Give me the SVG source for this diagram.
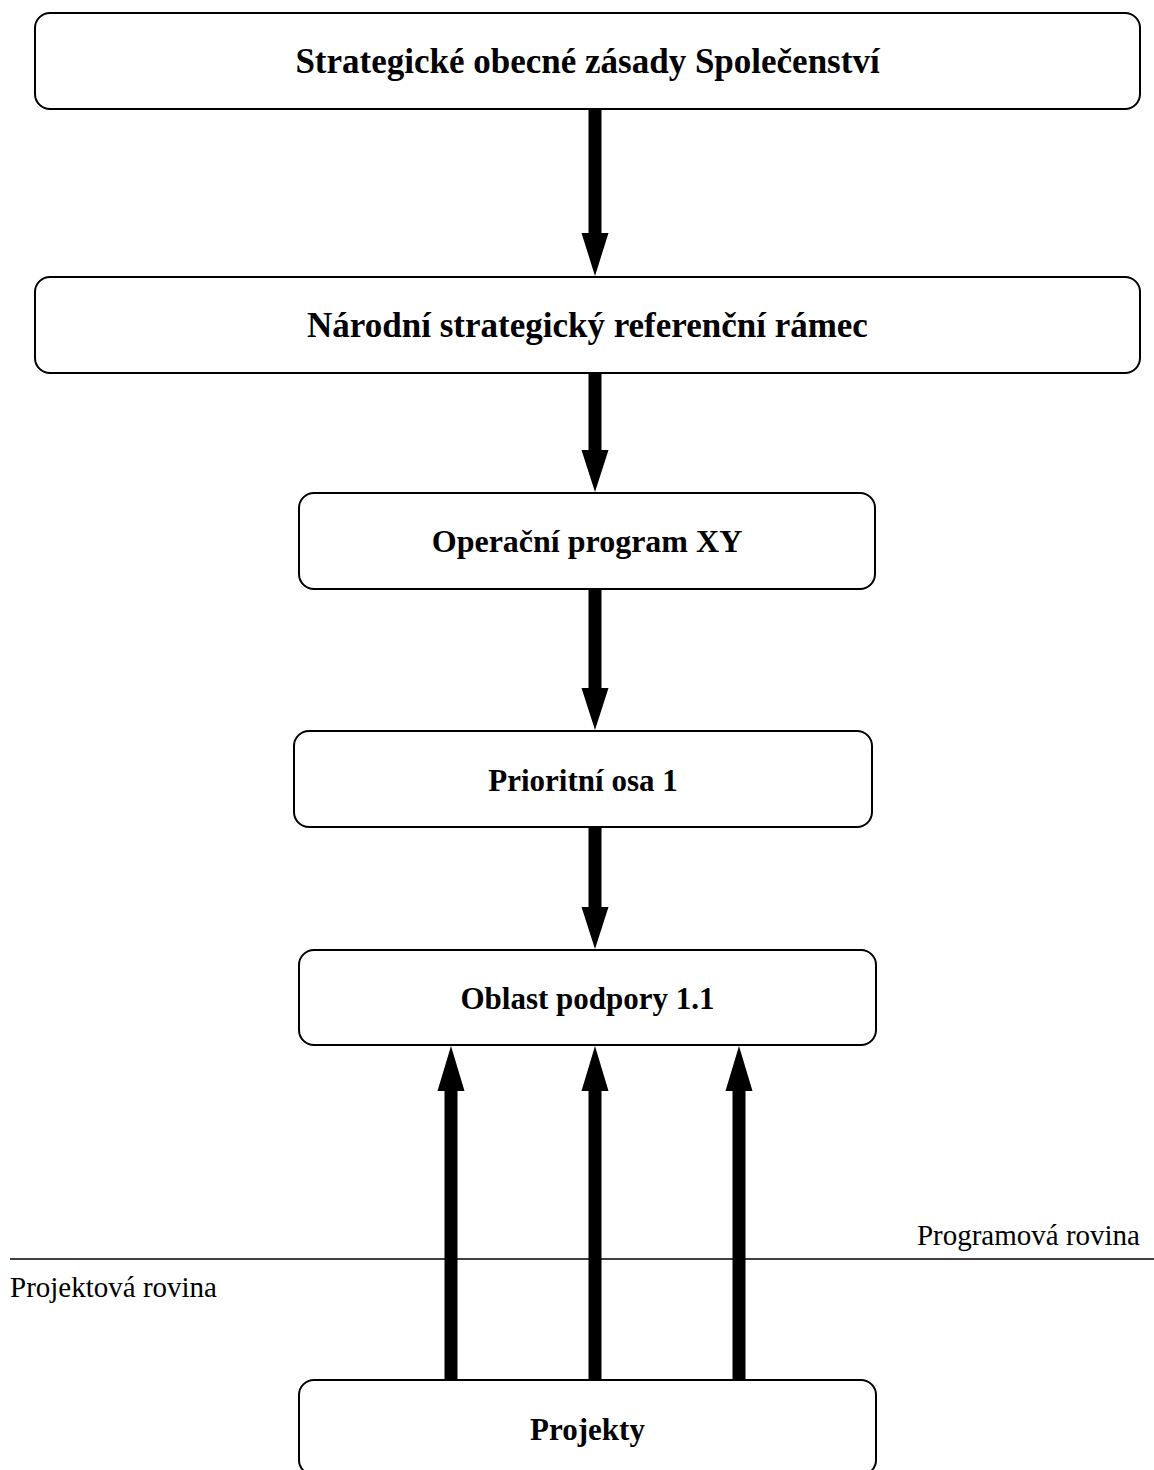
<svg xmlns="http://www.w3.org/2000/svg" width="1154" height="1470" viewBox="0 0 1154 1470">
<style>
.box{fill:#fff;stroke:#000;stroke-width:2}
.t{font-family:"Liberation Serif","Times New Roman",serif;font-weight:bold;font-size:31px;text-anchor:middle;fill:#000}
.big{font-size:35px}
.r{font-family:"Liberation Serif","Times New Roman",serif;font-size:29px;fill:#000}
.shaft{fill:#000}
</style>
<rect width="1154" height="1470" fill="#fff"/>
<g id="connectors">
  <polygon class="shaft" points="588.5,109 601.5,109 601.5,233 608.5,233 595,276 581.5,233 588.5,233"/>
  <polygon class="shaft" points="588.5,373 601.5,373 601.5,450 608.5,450 595,492 581.5,450 588.5,450"/>
  <polygon class="shaft" points="588.5,589 601.5,589 601.5,688 608.5,688 595,730 581.5,688 588.5,688"/>
  <polygon class="shaft" points="588.5,827 601.5,827 601.5,907 608.5,907 595,949 581.5,907 588.5,907"/>
  <polygon class="shaft" points="444.5,1380 457.5,1380 457.5,1091 464.5,1091 451,1046 437.5,1091 444.5,1091"/>
  <polygon class="shaft" points="588.5,1380 601.5,1380 601.5,1091 608.5,1091 595,1046 581.5,1091 588.5,1091"/>
  <polygon class="shaft" points="732.5,1380 745.5,1380 745.5,1091 752.5,1091 739,1046 725.5,1091 732.5,1091"/>
</g>
<g id="divider">
  <line x1="10" y1="1259" x2="1154" y2="1259" stroke="#000" stroke-width="1.6"/>
  <text class="r" x="1140" y="1245" text-anchor="end">Programová rovina</text>
  <text class="r" x="10" y="1297">Projektová rovina</text>
</g>
<g id="n1">
  <rect class="box" x="35" y="13" width="1105" height="96" rx="15"/>
  <text class="t big" x="587.5" y="73">Strategické obecné zásady Společenství</text>
</g>
<g id="n2">
  <rect class="box" x="35" y="277" width="1105" height="96" rx="15"/>
  <text class="t big" x="587.5" y="337">Národní strategický referenční rámec</text>
</g>
<g id="n3">
  <rect class="box" x="299" y="493" width="576" height="96" rx="15"/>
  <text class="t" x="587" y="552" style="font-size:32px">Operační program XY</text>
</g>
<g id="n4">
  <rect class="box" x="294" y="731" width="578" height="96" rx="15"/>
  <text class="t" x="583" y="791">Prioritní osa 1</text>
</g>
<g id="n5">
  <rect class="box" x="299" y="950" width="577" height="95" rx="15"/>
  <text class="t" x="587.5" y="1009">Oblast podpory 1.1</text>
</g>
<g id="n6">
  <rect class="box" x="299" y="1380" width="577" height="95" rx="15"/>
  <text class="t" x="587.5" y="1440">Projekty</text>
</g>
</svg>
